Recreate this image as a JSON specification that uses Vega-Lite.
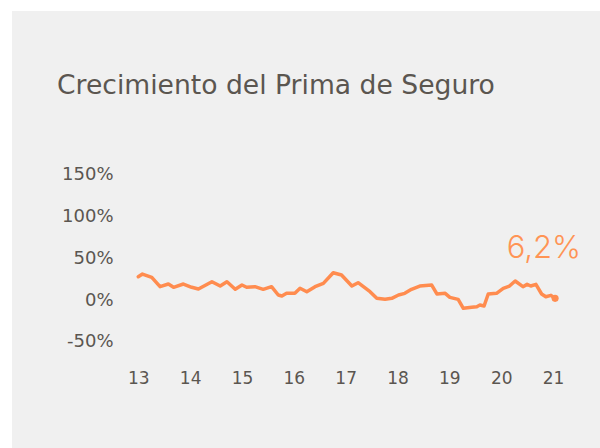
{
  "$schema": "https://vega.github.io/schema/vega-lite/v6.json",
  "autosize": {"type": "none"},
  "padding": {"left": 12, "top": 11, "right": 0, "bottom": 0},
  "width": 588,
  "height": 437,
  "background": "#ffffff",
  "config": {
    "view": {"fill": "#f0f0f0", "stroke": null},
    "font": "DejaVu Sans"
  },
  "title": {
    "text": "Crecimiento del Prima de Seguro",
    "anchor": "start",
    "frame": "group",
    "orient": "top",
    "offset": -89,
    "dx": 45,
    "fontSize": 26.6,
    "fontWeight": "normal",
    "font": "DejaVu Sans",
    "color": "#5b5650"
  },
  "datasets": {
    "serie": [
      {"year": 2013.00, "value": 27.8},
      {"year": 2013.08, "value": 31.0},
      {"year": 2013.26, "value": 27.1},
      {"year": 2013.42, "value": 15.9},
      {"year": 2013.58, "value": 19.1},
      {"year": 2013.68, "value": 15.2},
      {"year": 2013.87, "value": 19.1},
      {"year": 2014.03, "value": 15.2},
      {"year": 2014.16, "value": 13.1},
      {"year": 2014.42, "value": 21.9},
      {"year": 2014.58, "value": 16.7},
      {"year": 2014.71, "value": 21.9},
      {"year": 2014.87, "value": 12.8},
      {"year": 2015.00, "value": 17.9},
      {"year": 2015.09, "value": 15.2},
      {"year": 2015.25, "value": 15.9},
      {"year": 2015.41, "value": 12.8},
      {"year": 2015.57, "value": 15.9},
      {"year": 2015.70, "value": 6.0},
      {"year": 2015.77, "value": 4.8},
      {"year": 2015.86, "value": 8.0},
      {"year": 2016.02, "value": 8.0},
      {"year": 2016.12, "value": 14.0},
      {"year": 2016.25, "value": 9.9},
      {"year": 2016.41, "value": 15.9},
      {"year": 2016.57, "value": 19.9},
      {"year": 2016.76, "value": 32.6},
      {"year": 2016.92, "value": 29.9},
      {"year": 2017.12, "value": 16.7},
      {"year": 2017.24, "value": 20.7},
      {"year": 2017.47, "value": 9.9},
      {"year": 2017.60, "value": 2.0},
      {"year": 2017.76, "value": 0.8},
      {"year": 2017.89, "value": 2.0},
      {"year": 2018.02, "value": 6.0},
      {"year": 2018.14, "value": 8.0},
      {"year": 2018.27, "value": 12.8},
      {"year": 2018.43, "value": 16.7},
      {"year": 2018.66, "value": 17.9},
      {"year": 2018.76, "value": 7.2},
      {"year": 2018.92, "value": 8.0},
      {"year": 2019.01, "value": 3.2},
      {"year": 2019.17, "value": 0.8},
      {"year": 2019.27, "value": -9.9},
      {"year": 2019.43, "value": -8.7},
      {"year": 2019.53, "value": -8.0},
      {"year": 2019.59, "value": -6.0},
      {"year": 2019.67, "value": -7.2},
      {"year": 2019.75, "value": 7.2},
      {"year": 2019.91, "value": 8.0},
      {"year": 2020.04, "value": 14.0},
      {"year": 2020.16, "value": 16.7},
      {"year": 2020.27, "value": 22.7},
      {"year": 2020.42, "value": 15.9},
      {"year": 2020.50, "value": 18.7},
      {"year": 2020.57, "value": 16.7},
      {"year": 2020.67, "value": 18.7},
      {"year": 2020.78, "value": 7.2},
      {"year": 2020.86, "value": 3.9},
      {"year": 2020.96, "value": 5.6},
      {"year": 2021.04, "value": 2.0}
    ],
    "ultimo": [
      {"year": 2021.04, "value": 2.0, "label": "6,2%"}
    ]
  },
  "encoding": {
    "x": {
      "field": "year",
      "type": "quantitative",
      "scale": {"domain": [2010.564, 2021.906], "nice": false, "zero": false},
      "axis": {
        "title": null,
        "values": [2013, 2014, 2015, 2016, 2017, 2018, 2019, 2020, 2021],
        "labelExpr": "substring(toString(datum.value), 2)",
        "domain": false,
        "ticks": false,
        "grid": false,
        "offset": -78,
        "labelPadding": 0,
        "labelFontSize": 17,
        "labelColor": "#5b5650",
        "labelFont": "DejaVu Sans"
      }
    },
    "y": {
      "field": "value",
      "type": "quantitative",
      "scale": {"domain": [-176.7, 345.1], "nice": false, "zero": false},
      "axis": {
        "title": null,
        "values": [-50, 0, 50, 100, 150],
        "labelExpr": "datum.value + '%'",
        "domain": false,
        "ticks": false,
        "grid": false,
        "offset": -101,
        "labelPadding": 0,
        "labelFontSize": 18,
        "labelColor": "#5b5650",
        "labelFont": "DejaVu Sans"
      }
    }
  },
  "layer": [
    {
      "data": {"name": "serie"},
      "mark": {"type": "line", "color": "#ff8c4f", "strokeWidth": 3.5, "strokeJoin": "round", "strokeCap": "round"}
    },
    {
      "data": {"name": "ultimo"},
      "mark": {"type": "circle", "color": "#ff8c4f", "size": 50, "opacity": 1}
    },
    {
      "data": {"name": "ultimo"},
      "mark": {"type": "text", "color": "#ff9455", "fontSize": 31, "fontWeight": 300, "font": "Inter", "align": "right", "baseline": "alphabetic", "dx": 26, "dy": -40},
      "encoding": {"text": {"field": "label"}}
    }
  ]
}
